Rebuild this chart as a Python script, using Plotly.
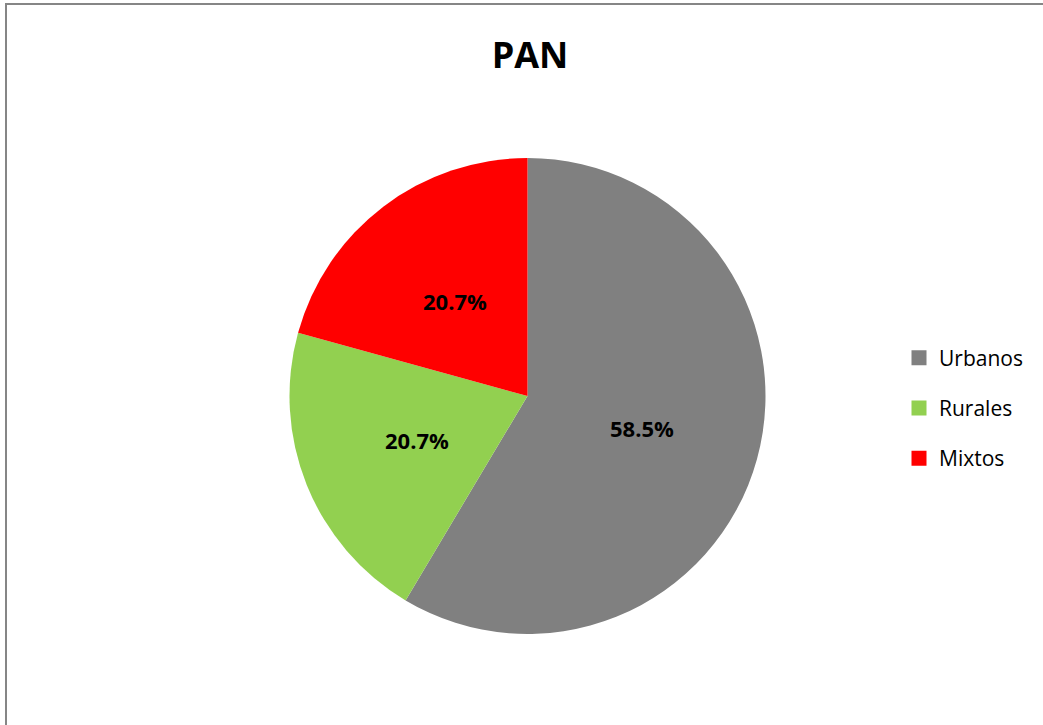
import math
import plotly.graph_objects as go

labels = ["Urbanos", "Rurales", "Mixtos"]
values = [58.5, 20.7, 20.7]
colors = ["#808080", "#92D050", "#FF0000"]

W, H = 1043, 725
CX, CY, R = 527.5, 396, 238  # pie centre / radius in pixels

fig = go.Figure()
fig.add_trace(go.Pie(
    labels=labels, values=values, sort=False, direction="clockwise", rotation=0,
    marker=dict(colors=colors, line=dict(width=0)),
    textinfo="none", showlegend=False, hoverinfo="label+value",
    domain=dict(x=[(CX - R) / W, (CX + R) / W], y=[1 - (CY + R) / H, 1 - (CY - R) / H]),
))
for lab, col in zip(labels, colors):
    fig.add_trace(go.Scatter(
        x=[None], y=[None], mode="markers", name=lab, legendgroup=lab,
        marker=dict(symbol="square", size=15, color=col),
    ))

# data labels at half radius on each slice's bisector (derived from values)
total = sum(values)
cum = 0.0
annotations = []
for v in values:
    th = 2 * math.pi * (cum + v / 2) / total
    cum += v
    px = CX + 0.5 * R * math.sin(th)
    py = CY - 0.5 * R * math.cos(th)
    annotations.append(dict(
        x=px / W, y=1 - py / H, xref="paper", yref="paper", showarrow=False,
        text=f"<b>{v:.1f}%</b>", xanchor="center", yanchor="middle",
        font=dict(family="Open Sans", size=22, color="black"),
    ))

fig.update_layout(
    width=W, height=H, margin=dict(l=0, r=0, t=0, b=0),
    paper_bgcolor="white", plot_bgcolor="white",
    xaxis=dict(visible=False), yaxis=dict(visible=False),
    title=dict(text="<b>PAN</b>", x=530 / W, xanchor="center", y=1 - 55 / H, yanchor="middle",
               font=dict(family="Open Sans", size=36, color="black")),
    legend=dict(x=899 / W, xanchor="left", y=1 - 408 / H, yanchor="middle",
                font=dict(family="Open Sans", size=21, color="black"),
                traceorder="grouped", tracegroupgap=20, itemwidth=30),
    annotations=annotations,
    shapes=[dict(type="rect", xref="paper", yref="paper", x0=6 / W, x1=1.05, y0=-0.05, y1=1 - 4 / H,
                 line=dict(color="#868686", width=2), fillcolor="rgba(0,0,0,0)", layer="above")],
)
fig.write_html("out.html", config={"displayModeBar": False},
               post_script="document.body.style.margin='0px';")
